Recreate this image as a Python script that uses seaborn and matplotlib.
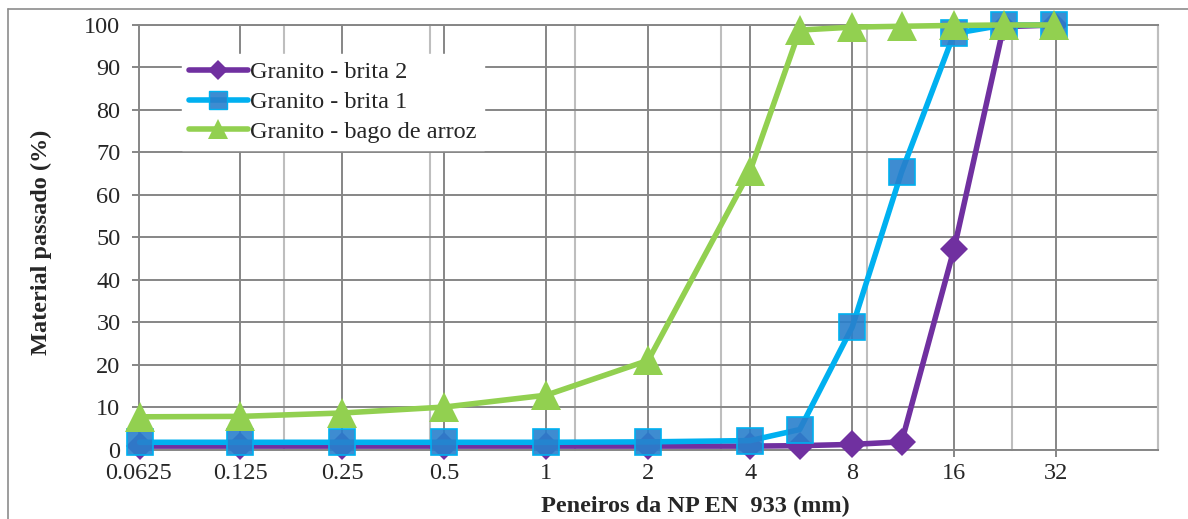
import matplotlib
matplotlib.use("Agg")
import matplotlib.pyplot as plt
from matplotlib.lines import Line2D
import seaborn as sns
import pandas as pd

sieves = [0.063, 0.125, 0.25, 0.5, 1, 2, 4, 5.6, 8, 11.2, 16, 22.4, 31.5]
brita2 = [0.8, 0.8, 0.8, 0.8, 0.8, 0.8, 0.8, 0.9, 1.2, 1.8, 47.3, 99.6, 100]
brita1 = [1.7, 1.7, 1.7, 1.7, 1.7, 1.8, 2.1, 4.7, 28.8, 65.4, 98.0, 100, 100]
bago = [7.7, 7.8, 8.6, 10.0, 12.8, 21.0, 65.7, 98.8, 99.5, 99.7, 99.9, 100, 100]
tick_vals = [0.0625, 0.125, 0.25, 0.5, 1, 2, 4, 8, 16, 32]
tick_labels = ["0.0625", "0.125", "0.25", "0.5", "1", "2", "4", "8", "16", "32"]
names = ["Granito - brita 2", "Granito - brita 1", "Granito - bago de arroz"]

sns.set_style("white")
plt.rcParams['font.family'] = ['Liberation Serif', 'DejaVu Serif']

W, H = 1188, 519
fig = plt.figure(figsize=(W / 100, H / 100), dpi=100)
L, R, T, B = 138.5, 1158, 25, 449.5
ax = fig.add_axes([L / W, 1 - B / H, (R - L) / W, (B - T) / H])

dark = "#868686"
light = "#BEBEBE"
FS = 17.5

ax.set_xscale("log", base=2)
ax.set_xlim(0.0625, 64)
ax.set_ylim(0, 100)

# light evenly spaced vertical lines (secondary grid)
for k in range(1, 8):
    ax.plot([k / 7, k / 7], [0, 1], transform=ax.transAxes, color=light, lw=1.5,
            zorder=0.5, clip_on=False)

ax.set_xticks(tick_vals)
ax.set_xticklabels(tick_labels)
ax.set_xticks([], minor=True)
ax.set_yticks(range(0, 101, 10))
ax.grid(True, which="major", color=dark, lw=1.4, zorder=0.6)
ax.set_axisbelow(True)

for s in ["left", "bottom", "top"]:
    ax.spines[s].set_color(dark)
    ax.spines[s].set_linewidth(1.4)
ax.spines["right"].set_color(light)
ax.spines["right"].set_linewidth(1.5)

ax.tick_params(axis="both", which="major", labelsize=FS, color=dark, width=1.4,
               length=5, direction="out", left=True, bottom=True)
ax.tick_params(axis="y", pad=8)
ax.tick_params(axis="x", pad=5)

df = pd.DataFrame({"sieve": sieves, "b2": brita2, "b1": brita1, "ba": bago})

purple = "#7030A0"
cyan = "#00B0F0"
sqfill = (0.16, 0.50, 0.80, 0.9)
green = "#92D050"
LW = 4.0

sns.lineplot(data=df, x="sieve", y="b2", ax=ax, color=purple, lw=LW, marker="D",
             markersize=14, markerfacecolor=purple, markeredgecolor=purple,
             markeredgewidth=0, clip_on=False, zorder=3, sort=False)
sns.lineplot(data=df, x="sieve", y="b1", ax=ax, color=cyan, lw=LW, marker="s",
             markersize=19, markerfacecolor=sqfill, markeredgecolor=cyan,
             markeredgewidth=1.2, clip_on=False, zorder=4, sort=False)
sns.lineplot(data=df, x="sieve", y="ba", ax=ax, color=green, lw=LW, marker="^",
             markersize=21, markerfacecolor=green, markeredgecolor=green,
             markeredgewidth=0, clip_on=False, zorder=5, sort=False)

ax.set_xlabel("")
ax.set_ylabel("")

handles = [
    Line2D([], [], color=purple, lw=LW, marker="D", markersize=10, markeredgewidth=0),
    Line2D([], [], color=cyan, lw=LW, marker="s", markersize=13,
           markerfacecolor=sqfill, markeredgecolor=cyan, markeredgewidth=1),
    Line2D([], [], color=green, lw=LW, marker="^", markersize=14, markeredgewidth=0),
]
leg = ax.legend(handles, names, loc="upper left",
                bbox_to_anchor=(182 / W, 1 - 54 / H), bbox_transform=fig.transFigure,
                frameon=True, fancybox=False, framealpha=1, edgecolor="white",
                fontsize=FS, handlelength=2.4, handletextpad=0.1,
                labelspacing=0.32, borderpad=0.3, borderaxespad=0)
leg.set_zorder(10)

fig.text(695 / W, 1 - 506 / H, "Peneiros da NP EN  933 (mm)", ha="center", va="center",
         fontsize=FS, fontweight="bold")
fig.text(41 / W, 1 - 242 / H, "Material passado (%)", ha="center", va="center",
         rotation=90, fontsize=FS, fontweight="bold")

# outer chart border
fig.add_artist(Line2D([8 / W, 1], [1 - 9 / H, 1 - 9 / H], transform=fig.transFigure,
                      color="#8C8C8C", lw=1.2))
fig.add_artist(Line2D([8 / W, 8 / W], [0, 1 - 9 / H], transform=fig.transFigure,
                      color="#8C8C8C", lw=1.2))

fig.savefig("out.png", dpi=100, facecolor="white")
